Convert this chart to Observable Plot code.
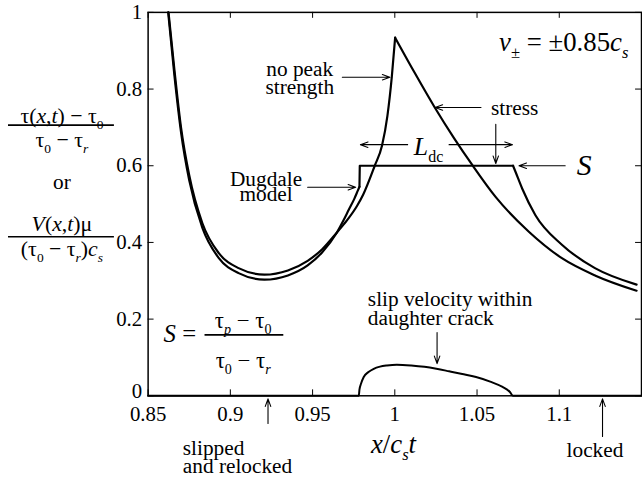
<!DOCTYPE html>
<html><head><meta charset="utf-8">
<script src="https://cdn.jsdelivr.net/npm/d3@7"></script>
<script src="https://cdn.jsdelivr.net/npm/@observablehq/plot@0.6"></script>
<style>
html,body{margin:0;padding:0;background:#fff;overflow:hidden;}
#chart svg{display:block}
</style>
</head><body><div id="chart"></div>
<script>
// ---- data ----
// stress curve with no peak strength (rise to singular peak, then fall)
const noPeakRiseX = [0.8624, 0.8660, 0.8700, 0.8750, 0.8830, 0.8930, 0.9050, 0.9207, 0.9350, 0.9470, 0.9560, 0.9648, 0.9710, 0.9770, 0.9808, 0.9878, 0.9922, 0.9955, 0.9982, 1.0002];
const noPeakRiseY = [1.000, 0.850, 0.700, 0.575, 0.450, 0.372, 0.333, 0.316, 0.327, 0.352, 0.383, 0.426, 0.458, 0.495, 0.525, 0.600, 0.652, 0.730, 0.833, 0.934];
const stressFallX = [1.0002, 1.0120, 1.0243, 1.0360, 1.0474, 1.0614, 1.0815, 1.1016, 1.1217, 1.1470];
const stressFallY = [0.934, 0.843, 0.752, 0.672, 0.600, 0.518, 0.428, 0.359, 0.314, 0.274];
// Dugdale model curve
const dugdaleRiseX = [0.8622, 0.8660, 0.8700, 0.8750, 0.8830, 0.8930, 0.9050, 0.9207, 0.9350, 0.9470, 0.9560, 0.9648, 0.9685, 0.9720, 0.9755, 0.9775, 0.9785];
const dugdaleRiseY = [1.000, 0.835, 0.688, 0.562, 0.438, 0.359, 0.320, 0.303, 0.314, 0.340, 0.375, 0.426, 0.455, 0.485, 0.515, 0.535, 0.545];
const dugdalePlateauX = [0.9785, 0.9787, 1.0719];
const dugdalePlateauY = [0.545, 0.600, 0.600];
const dugdaleTailX = [1.0719, 1.0735, 1.0775, 1.0855, 1.1016, 1.1217, 1.1470];
const dugdaleTailY = [0.600, 0.583, 0.540, 0.471, 0.394, 0.333, 0.290];
// slip velocity within daughter crack
const slipX = [0.85, 0.9781, 0.9785, 0.9795, 0.9811, 0.9840, 0.9872, 0.9910, 0.9952, 1.0012, 1.0100, 1.0180, 1.0253, 1.0330, 1.0410, 1.0494, 1.0580, 1.0655, 1.0700, 1.0719, 1.15];
const slipY = [0, 0.000, 0.016, 0.032, 0.049, 0.062, 0.0705, 0.076, 0.079, 0.081, 0.079, 0.0755, 0.0705, 0.064, 0.057, 0.049, 0.037, 0.023, 0.010, 0.000, 0];
// axes
const xTicks = [0.85, 0.9, 0.95, 1, 1.05, 1.1, 1.15];
const xTickLabels = ["0.85", "0.9", "0.95", "1", "1.05", "1.1", ""];
const yTicks = [0, 0.2, 0.4, 0.6, 0.8, 1];
const yTickLabels = ["0", "0.2", "0.4", "0.6", "0.8", "1"];

// ---- annotations (data coordinates) ----
const textsMiddle = [
  {t: "τ(*x*,*t*) − τ_{0}", x: 0.7976, y: 0.729, s: 22},
  {t: "τ_{0} − τ_{*r*}", x: 0.7976, y: 0.667, s: 22},
  {t: "or", x: 0.7976, y: 0.558, s: 21.5},
  {t: "*V*(*x*,*t*)μ", x: 0.7976, y: 0.447, s: 22},
  {t: "(τ_{0} − τ_{*r*})*c*_{*s*}", x: 0.7976, y: 0.383, s: 22},
  {t: "no peak", x: 0.9422, y: 0.853, s: 21.5},
  {t: "strength", x: 0.9422, y: 0.806, s: 21.5},
  {t: "Dugdale", x: 0.9217, y: 0.566, s: 21.5},
  {t: "model", x: 0.9217, y: 0.525, s: 21.5},
  {t: "stress", x: 1.0729, y: 0.750, s: 21.5},
  {t: "*L*_{dc}", x: 1.0205, y: 0.650, s: 26},
  {t: "*S*", x: 1.1151, y: 0.600, s: 30},
  {t: "*x*/*c*_{*s*}*t*", x: 0.9992, y: -0.127, s: 27},
  {t: "*S* =", x: 0.8693, y: 0.161, s: 25},
  {t: "τ_{*p*} − τ_{0}", x: 0.9078, y: 0.196, s: 23},
  {t: "τ_{0} − τ_{*r*}", x: 0.9078, y: 0.092, s: 23},
  {t: "locked", x: 1.1217, y: -0.142, s: 21.5}
];
const textsStart = [
  {t: "slip velocity within", x: 0.9836, y: 0.253, s: 21.5},
  {t: "daughter crack", x: 0.9836, y: 0.202, s: 21.5},
  {t: "slipped", x: 0.8711, y: -0.137, s: 21.5},
  {t: "and relocked", x: 0.8711, y: -0.183, s: 21.5}
];
const textsEnd = [
  {t: "*v*_{±} = ±0.85*c*_{*s*}", x: 1.1420, y: 0.922, s: 27}
];
const fractionBars = [
  {x1: 0.7651, x2: 0.8295, y: 0.706},
  {x1: 0.7651, x2: 0.8295, y: 0.415},
  {x1: 0.8846, x2: 0.9325, y: 0.159}
];
const arrows = [
  {x1: 0.9681, y1: 0.831, x2: 0.9970, y2: 0.831},   // no peak strength
  {x1: 1.0524, y1: 0.752, x2: 1.0245, y2: 0.752},   // stress
  {x1: 1.0614, y1: 0.708, x2: 1.0614, y2: 0.606},   // stress -> plateau
  {x1: 1.0078, y1: 0.655, x2: 0.9791, y2: 0.655},   // Ldc left
  {x1: 1.0330, y1: 0.655, x2: 1.0715, y2: 0.655},   // Ldc right
  {x1: 1.1036, y1: 0.600, x2: 1.0755, y2: 0.600},   // S
  {x1: 0.9470, y1: 0.544, x2: 0.9762, y2: 0.544},   // Dugdale model
  {x1: 1.0257, y1: 0.165, x2: 1.0257, y2: 0.084},   // slip velocity
  {x1: 0.9229, y1: -0.072, x2: 0.9229, y2: -0.008}, // slipped and relocked
  {x1: 1.1263, y1: -0.106, x2: 1.1263, y2: -0.008}  // locked
];

const rows = (xs, ys) => xs.map((x, i) => ({x, y: ys[i]}));
const fmtY = d => yTickLabels[yTicks.indexOf(d)];

const svg = Plot.plot({
  width: 648, height: 487,
  marginLeft: 149, marginRight: 1, marginTop: 12, marginBottom: 88,
  style: "font-family: 'Liberation Serif', serif; font-size: 21px; background: white; color: black;",
  x: {domain: [0.85, 1.15], axis: null},
  y: {domain: [0, 1], axis: null},
  marks: [
    Plot.frame({stroke: "black", strokeWidth: 1.5}),
    Plot.ruleX(xTicks, {x: d => d, insetTop: 381, stroke: "black", strokeWidth: 1}),
    Plot.ruleX(xTicks, {x: d => d, insetBottom: 381, stroke: "black", strokeWidth: 1}),
    Plot.ruleY(yTicks, {y: d => d, insetRight: 492, stroke: "black", strokeWidth: 1}),
    Plot.ruleY(yTicks, {y: d => d, insetLeft: 492, stroke: "black", strokeWidth: 1}),
    Plot.axisX({ticks: xTicks.slice(0, 6), tickSize: 0, tickPadding: 11, tickFormat: d => xTickLabels[xTicks.indexOf(d)], fontSize: 21}),
    Plot.axisY({ticks: yTicks.slice(1), tickSize: 0, tickPadding: 6, tickFormat: fmtY, fontSize: 21}),
    Plot.axisY({ticks: yTicks.slice(0, 1), tickSize: 0, tickPadding: 6, tickFormat: fmtY, fontSize: 21, dy: -5}),
    Plot.line(rows(slipX, slipY), {x: "x", y: "y", curve: "monotone-x", stroke: "black", strokeWidth: 2}),
    Plot.line(rows(noPeakRiseX, noPeakRiseY), {x: "x", y: "y", curve: "monotone-x", stroke: "black", strokeWidth: 2.2}),
    Plot.line(rows(stressFallX, stressFallY), {x: "x", y: "y", curve: "monotone-x", stroke: "black", strokeWidth: 2.2}),
    Plot.line(rows(dugdaleRiseX, dugdaleRiseY), {x: "x", y: "y", curve: "monotone-x", stroke: "black", strokeWidth: 2.2}),
    Plot.line(rows(dugdalePlateauX, dugdalePlateauY), {x: "x", y: "y", curve: "linear", stroke: "black", strokeWidth: 2.2}),
    Plot.line(rows(dugdaleTailX, dugdaleTailY), {x: "x", y: "y", curve: "monotone-x", stroke: "black", strokeWidth: 2.2}),
    Plot.arrow(arrows, {x1: "x1", y1: "y1", x2: "x2", y2: "y2", stroke: "black", strokeWidth: 1.1, headLength: 11, headAngle: 40}),
    Plot.ruleY(fractionBars, {x1: "x1", x2: "x2", y: "y", stroke: "black", strokeWidth: 1.6}),
    Plot.text(textsMiddle, {x: "x", y: "y", text: "t", fontSize: "s", textAnchor: "middle", fill: "black"}),
    Plot.text(textsStart, {x: "x", y: "y", text: "t", fontSize: "s", textAnchor: "start", fill: "black"}),
    Plot.text(textsEnd, {x: "x", y: "y", text: "t", fontSize: "s", textAnchor: "end", fill: "black"})
  ]
});
document.getElementById("chart").appendChild(svg);

// turn *italic* and _{subscript} markup into tspans
function richify(root) {
  d3.select(root).selectAll("text").each(function () {
    const el = this;
    if (el.querySelector("tspan")) return;
    const s = el.textContent;
    if (!/[*]|_\{/.test(s)) return;
    const F = parseFloat(getComputedStyle(el).fontSize);
    const segs = [];
    let italic = false, sub = false, cur = "";
    const push = () => { if (cur) { segs.push({t: cur, italic, sub}); cur = ""; } };
    for (let i = 0; i < s.length; i++) {
      const c = s[i];
      if (c === "*") { push(); italic = !italic; }
      else if (c === "_" && s[i + 1] === "{") { push(); sub = true; i++; }
      else if (c === "}" && sub) { push(); sub = false; }
      else cur += c;
    }
    push();
    el.textContent = "";
    let shift = 0;
    for (const g of segs) {
      const ts = d3.select(el).append("tspan").text(g.t);
      const target = g.sub ? 0.26 * F : 0;
      if (target !== shift) { ts.attr("dy", target - shift); shift = target; }
      if (g.sub) ts.attr("font-size", 0.62 * F);
      if (g.italic) ts.attr("font-style", "italic");
    }
  });
}
richify(svg);
</script>
</body></html>
